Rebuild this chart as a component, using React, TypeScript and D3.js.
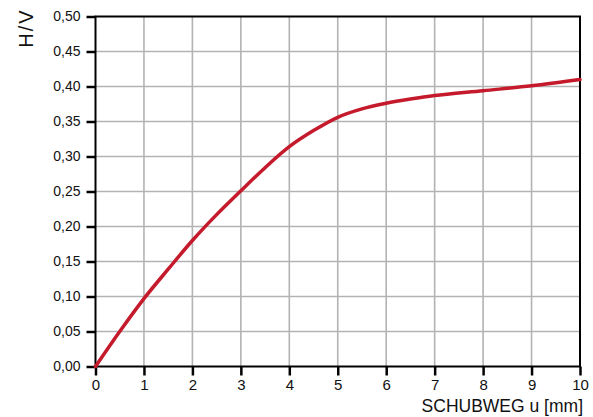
import React, { useEffect, useRef } from "react";
import * as d3 from "d3";

// Schubweg u [mm] und H/V
const xValues = [0, 0.5, 1, 1.5, 2, 2.5, 3, 3.5, 4, 4.5, 5, 5.5, 6, 6.5, 7, 8, 9, 10];
const hvValues = [0, 0.05, 0.097, 0.139, 0.18, 0.217, 0.251, 0.284, 0.314, 0.337, 0.356, 0.368, 0.376, 0.382, 0.387, 0.394, 0.401, 0.41];
const xTicks = [0, 1, 2, 3, 4, 5, 6, 7, 8, 9, 10];
const yTicks = [0, 0.05, 0.1, 0.15, 0.2, 0.25, 0.3, 0.35, 0.4, 0.45, 0.5];

const App: React.FC = () => {
  const svgRef = useRef<SVGSVGElement | null>(null);

  useEffect(() => {
    if (!svgRef.current) return;
    const width = 593;
    const height = 417;
    const svg = d3.select(svgRef.current);
    svg.selectAll("*").remove();
    svg.attr("width", width).attr("height", height);

    const left = 95.5, right = 580, top = 16.5, bottom = 366.5;

    const x = d3.scaleLinear().domain([0, 10]).range([left, right]);
    const y = d3.scaleLinear().domain([0, 0.5]).range([bottom, top]);

    const fmt = (v: number) => d3.format(".2f")(v).replace(".", ",");

    // Gitter
    const grid = svg.append("g").attr("stroke", "#b3b3b3").attr("stroke-width", 1.6);
    grid.selectAll("line.v")
      .data(xTicks.slice(1, -1))
      .enter().append("line")
      .attr("x1", d => x(d)).attr("x2", d => x(d))
      .attr("y1", top).attr("y2", bottom);
    grid.selectAll("line.h")
      .data(yTicks.slice(1, -1))
      .enter().append("line")
      .attr("x1", left).attr("x2", right)
      .attr("y1", d => y(d)).attr("y2", d => y(d));

    // Rahmen
    svg.append("rect")
      .attr("x", left).attr("y", top)
      .attr("width", right - left).attr("height", bottom - top)
      .attr("fill", "none").attr("stroke", "#000").attr("stroke-width", 2);

    // Y-Achse
    const yAxis = svg.append("g").attr("transform", `translate(${left},0)`)
      .call(d3.axisLeft(y).tickValues(yTicks).tickFormat(d => fmt(d as number)).tickSize(9).tickPadding(6));
    yAxis.select(".domain").remove();
    yAxis.selectAll(".tick line").attr("stroke", "#000").attr("stroke-width", 2.5);
    yAxis.selectAll(".tick text")
      .attr("font-family", "Liberation Sans, Arial, sans-serif")
      .attr("font-size", 14).attr("fill", "#111");

    // X-Achse
    const xAxis = svg.append("g").attr("transform", `translate(0,${bottom})`)
      .call(d3.axisBottom(x).tickValues(xTicks).tickFormat(d => String(d)).tickSize(9).tickPadding(4));
    xAxis.select(".domain").remove();
    xAxis.selectAll(".tick line").attr("stroke", "#000").attr("stroke-width", 2.5);
    xAxis.selectAll(".tick text")
      .attr("font-family", "Liberation Sans, Arial, sans-serif")
      .attr("font-size", 15).attr("fill", "#111");

    // Kurve
    const pts: [number, number][] = xValues.map((v, i) => [v, hvValues[i]]);
    const line = d3.line<[number, number]>()
      .x(d => x(d[0]))
      .y(d => y(d[1]))
      .curve(d3.curveCatmullRom.alpha(0.5));
    svg.append("path")
      .datum(pts)
      .attr("d", line)
      .attr("fill", "none")
      .attr("stroke", "#c41a2c")
      .attr("stroke-width", 3.5)
      .attr("stroke-linecap", "round");

    // Achsentitel
    svg.append("text")
      .attr("x", 583).attr("y", 412)
      .attr("text-anchor", "end")
      .attr("font-family", "Liberation Sans, Arial, sans-serif")
      .attr("font-size", 17.5).attr("fill", "#111")
      .text("SCHUBWEG u [mm]");

    svg.append("text")
      .attr("transform", "translate(33,28) rotate(-90)")
      .attr("text-anchor", "middle")
      .attr("font-family", "Liberation Sans, Arial, sans-serif")
      .attr("font-size", 20).attr("letter-spacing", 2).attr("fill", "#111")
      .text("H/V");
  }, []);

  return <svg ref={svgRef} style={{ position: "absolute", left: 0, top: 0 }}></svg>;
};

export default App;
